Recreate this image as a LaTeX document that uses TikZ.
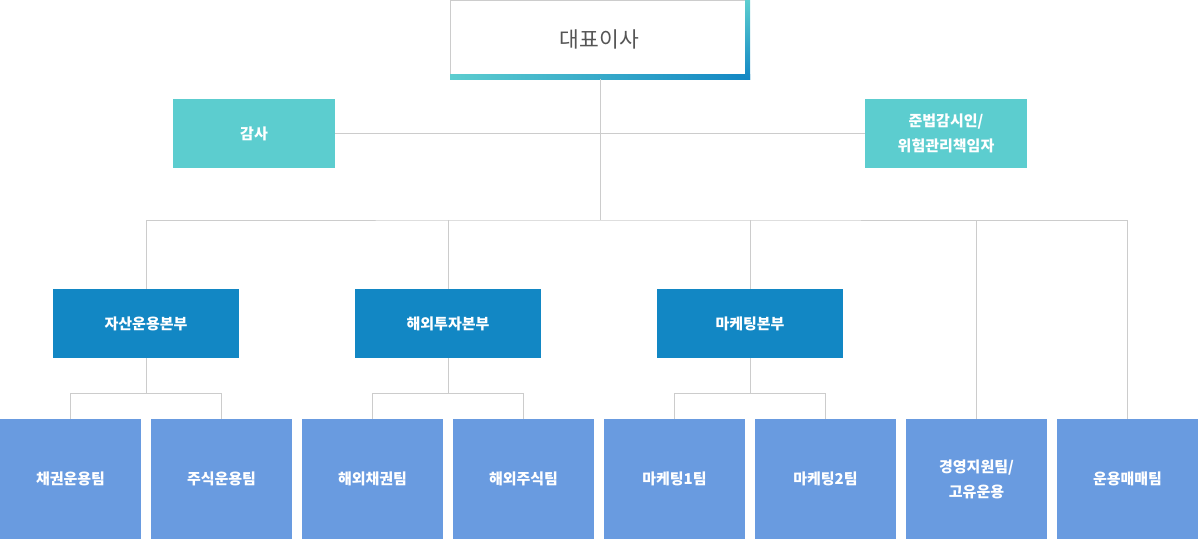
\documentclass[tikz,border=0pt]{standalone}
\usepackage{fontspec}
\usepackage{tikz}
\usetikzlibrary{positioning,calc}
\setmainfont{Noto Sans CJK KR}
\definecolor{orgTeal}  {RGB}{92, 205, 207}
\definecolor{orgBlue}  {RGB}{18, 135, 196}
\definecolor{teamBlue} {RGB}{105,155, 224}
\definecolor{lineGray} {RGB}{204,204, 204}
\definecolor{textGray} {RGB}{85,  85,  85}
\tikzset{
  conn/.style={draw=lineGray,line width=1pt},
  boxbase/.style={inner sep=0pt,align=center,text=white,font=\bfseries\fontsize{15}{25}\selectfont},
  auditbox/.style={boxbase,fill=orgTeal,minimum width=162pt,minimum height=69pt},
  divbox/.style={boxbase,fill=orgBlue,minimum width=186pt,minimum height=69pt},
  teambox/.style={boxbase,fill=teamBlue,minimum width=141pt,minimum height=120pt}
}
\begin{document}
\begin{tikzpicture}[x=1pt,y=-1pt]
        \useasboundingbox (0,0) rectangle (1198,539);

        % CEO box with gradient edges
        \node[draw=lineGray,line width=1pt,fill=white,minimum width=299pt,minimum height=78pt,
              inner sep=0pt,text=textGray,font=\fontsize{21.5}{24}\selectfont]
          (ceo) at (599.5,39.5) {대표이사};
        \shade[left color=orgTeal,right color=orgBlue] (450,74) rectangle (750,79);
        \shade[top color=orgTeal,bottom color=orgBlue] (745,0) rectangle (750,79);
        \coordinate (ceoS) at (600,79);

        % staff
        \node[auditbox] (audit) at (254,133.5) {감사};
        \node[auditbox] (comp) at (946,133.5) {준법감시인/\\위험관리책임자};
        \draw[conn] (audit.east) -- (comp.west);

        % divisions
        \node[divbox] (div1) at (146,323.5) {자산운용본부};
        \node[divbox] (div2) at (448,323.5) {해외투자본부};
        \node[divbox] (div3) at (750,323.5) {마케팅본부};

        % teams
        \foreach \name/\val/\x in {t1/채권운용팀/70.5, t2/주식운용팀/221.5, t3/해외채권팀/372.5,
                                   t4/해외주식팀/523.5, t5/마케팅1팀/674.5, t6/마케팅2팀/825.5,
                                   t7/{경영지원팀/\\고유운용}/976.5, t8/운용매매팀/1127.5}{
          \node[teambox] (\name) at (\x,479) {\val};
        }

        % main bus
        \coordinate (bus) at (600,220);
        \draw[conn] (ceoS) -- (bus);
        \draw[conn] (div1.north) |- (bus) -| (t8.north);
        \draw[conn] (div2.north) -- (div2.north |- bus);
        \draw[conn] (div3.north) -- (div3.north |- bus);
        \draw[conn] (t7.north) -- (t7.north |- bus);

        % sub buses
        \foreach \d/\a/\b in {div1/t1/t2, div2/t3/t4, div3/t5/t6}{
          \coordinate (\d sub) at ($(\d.south)+(0,35)$);
          \draw[conn] (\d.south) -- (\d sub);
          \draw[conn] (\a.north) |- (\d sub) -| (\b.north);
        }
      \end{tikzpicture}
\end{document}
